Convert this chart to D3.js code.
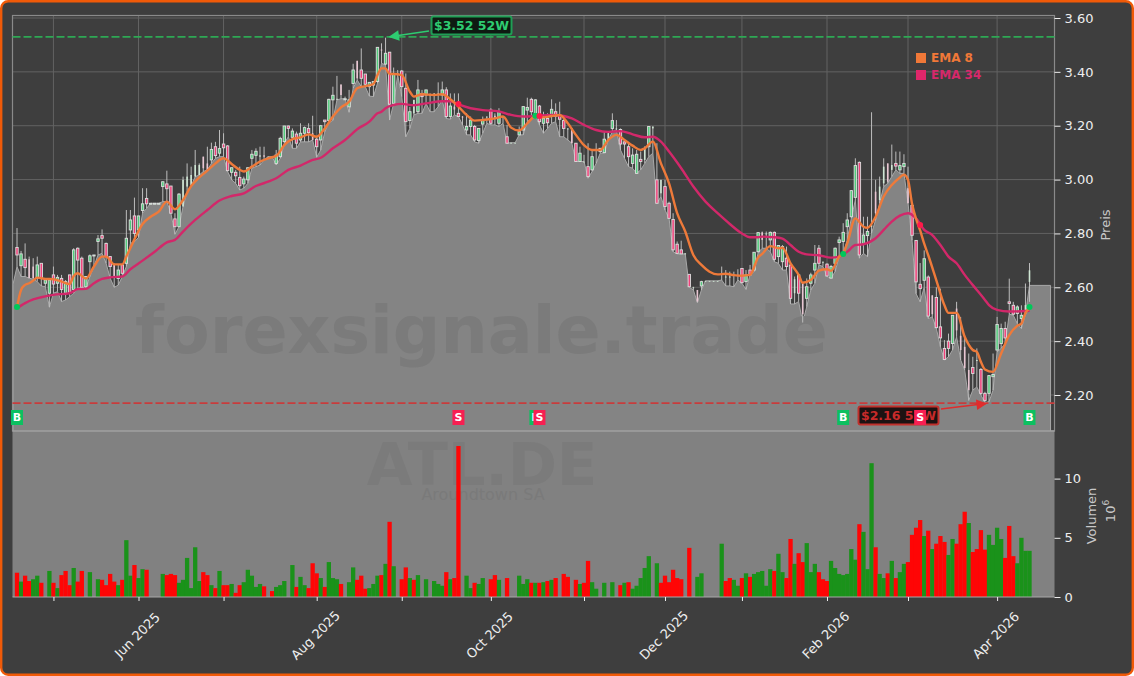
<!DOCTYPE html>
<html><head><meta charset="utf-8">
<script src="https://cdn.jsdelivr.net/npm/d3@7/dist/d3.min.js"></script>
<style>html,body{margin:0;padding:0;background:#fff}svg{display:block}text{font-family:"DejaVu Sans",sans-serif}</style>
</head><body><div id="c"></div>
<script>
const opens=[2.748,2.68,2.704,2.704,2.677,2.634,2.689,2.615,2.578,2.646,
2.615,2.633,2.578,2.646,2.592,2.745,2.708,2.602,2.695,2.72,
2.77,2.792,2.763,2.714,2.683,2.633,2.683,2.689,2.813,2.865,
2.813,2.885,2.93,2.912,2.912,2.912,2.974,2.984,2.976,2.854,
2.825,2.9,2.974,2.98,3.011,3.017,3.085,3.06,3.073,3.122,
3.098,3.132,3.125,3.027,3.027,3.008,2.984,2.999,3.079,3.09,
3.085,3.09,3.085,3.085,3.06,3.085,3.141,3.199,3.157,3.169,
3.147,3.172,3.19,3.172,3.15,3.147,3.221,3.219,3.296,3.3,
3.353,3.3,3.27,3.357,3.441,3.407,3.392,3.345,3.351,3.364,
3.483,3.429,3.473,3.283,3.394,3.403,3.339,3.219,3.246,3.252,
3.32,3.314,3.314,3.316,3.318,3.314,3.333,3.234,3.271,3.246,
3.234,3.184,3.197,3.197,3.145,3.206,3.234,3.258,3.237,3.209,
3.234,3.159,3.137,3.137,3.166,3.184,3.258,3.298,3.246,3.273,
3.209,3.227,3.234,3.252,3.24,3.219,3.19,3.19,3.135,3.067,
3.067,3.048,3.036,3.11,3.104,3.1,3.147,3.19,3.19,3.186,
3.14,3.122,3.06,3.023,3.075,3.073,3.122,3.19,2.999,2.949,
2.974,2.912,2.852,2.76,2.739,2.726,2.648,2.6,2.59,2.605,
2.624,2.624,2.624,2.624,2.652,2.64,2.64,2.646,2.646,2.67,
2.621,2.664,2.664,2.732,2.804,2.8,2.776,2.804,2.714,2.695,
2.708,2.683,2.578,2.646,2.615,2.559,2.615,2.664,2.745,2.695,
2.686,2.634,2.689,2.766,2.77,2.825,2.862,2.934,3.064,2.763,
2.792,2.825,2.955,2.924,2.986,3.06,3.036,3.06,3.036,3.048,
2.968,2.904,2.774,2.611,2.626,2.638,2.57,2.562,2.453,2.373,
2.4,2.391,2.521,2.42,2.379,2.293,2.302,2.33,2.295,2.206,
2.206,2.268,2.367,2.391,2.447,2.546,2.533,2.503,2.484,2.5,2.62];
const highs=[2.82,2.735,2.763,2.714,2.708,2.714,2.689,2.633,2.633,2.677,
2.646,2.646,2.627,2.646,2.745,2.748,2.714,2.64,2.722,2.72,
2.794,2.815,2.766,2.714,2.689,2.683,2.683,2.887,2.887,2.933,
2.865,2.968,2.968,2.912,2.912,2.912,2.992,3.033,2.976,2.875,
2.95,3.011,3.06,3.048,3.11,3.06,3.085,3.122,3.137,3.14,
3.184,3.172,3.128,3.044,3.036,3.048,3.011,3.044,3.11,3.116,
3.122,3.122,3.085,3.085,3.11,3.159,3.199,3.2,3.19,3.178,
3.209,3.197,3.209,3.237,3.16,3.203,3.221,3.3,3.345,3.385,
3.353,3.308,3.333,3.43,3.441,3.487,3.392,3.361,3.364,3.491,
3.506,3.527,3.473,3.416,3.407,3.407,3.394,3.27,3.296,3.37,
3.333,3.333,3.32,3.32,3.361,3.364,3.343,3.32,3.32,3.32,
3.236,3.246,3.234,3.203,3.19,3.234,3.234,3.265,3.246,3.265,
3.234,3.203,3.137,3.137,3.197,3.273,3.304,3.304,3.298,3.277,
3.252,3.246,3.298,3.283,3.289,3.227,3.19,3.19,3.135,3.122,
3.092,3.135,3.11,3.135,3.116,3.178,3.178,3.246,3.221,3.19,
3.147,3.14,3.116,3.11,3.104,3.122,3.197,3.197,3.135,2.999,
2.999,2.918,2.875,2.77,2.773,2.726,2.648,2.602,2.59,2.624,
2.624,2.624,2.624,2.624,2.677,2.664,2.658,2.658,2.667,2.67,
2.664,2.683,2.73,2.804,2.807,2.807,2.807,2.807,2.757,2.757,
2.751,2.683,2.64,2.646,2.615,2.633,2.654,2.757,2.757,2.695,
2.689,2.683,2.748,2.788,2.838,2.875,2.96,3.079,3.067,2.862,
2.862,3.25,2.999,3.011,3.079,3.06,3.13,3.104,3.104,3.094,
3.048,2.904,2.774,2.69,2.737,2.644,2.57,2.6,2.595,2.404,
2.428,2.496,2.546,2.49,2.42,2.354,2.342,2.373,2.3,2.212,
2.274,2.354,2.49,2.465,2.472,2.632,2.546,2.533,2.533,2.614,2.69];
const lows=[2.677,2.64,2.64,2.634,2.63,2.621,2.605,2.602,2.526,2.578,
2.584,2.547,2.553,2.565,2.578,2.596,2.6,2.596,2.64,2.677,
2.72,2.726,2.689,2.634,2.6,2.608,2.64,2.677,2.763,2.769,
2.785,2.875,2.893,2.912,2.912,2.912,2.918,2.918,2.875,2.797,
2.825,2.9,2.955,2.975,3.011,3.017,3.03,3.036,3.06,3.079,
3.085,3.085,3.03,2.999,2.986,2.961,2.968,2.986,3.042,3.048,
3.054,3.073,3.085,3.085,3.054,3.079,3.135,3.159,3.116,3.116,
3.14,3.14,3.14,3.147,3.083,3.11,3.178,3.21,3.22,3.296,
3.3,3.3,3.25,3.339,3.37,3.345,3.345,3.31,3.308,3.357,
3.432,3.425,3.221,3.283,3.388,3.308,3.159,3.19,3.24,3.246,
3.246,3.283,3.252,3.252,3.271,3.296,3.227,3.224,3.24,3.234,
3.203,3.166,3.166,3.14,3.135,3.172,3.209,3.203,3.203,3.197,
3.209,3.135,3.137,3.137,3.166,3.166,3.215,3.227,3.24,3.203,
3.172,3.19,3.209,3.215,3.159,3.159,3.147,3.135,3.067,3.067,
3.067,3.005,3.03,3.06,3.098,3.098,3.147,3.178,3.184,3.11,
3.079,3.048,3.042,3.023,3.036,3.06,3.085,3.098,2.912,2.937,
2.887,2.856,2.732,2.724,2.724,2.724,2.6,2.59,2.543,2.59,
2.624,2.624,2.624,2.624,2.627,2.605,2.605,2.602,2.627,2.615,
2.592,2.646,2.658,2.729,2.745,2.745,2.732,2.695,2.689,2.664,
2.664,2.538,2.538,2.547,2.469,2.528,2.59,2.615,2.683,2.677,
2.64,2.634,2.658,2.714,2.726,2.776,2.856,2.924,2.708,2.726,
2.714,2.8,2.85,2.912,2.974,2.986,3.011,3.036,3.023,3.023,
2.912,2.774,2.576,2.546,2.6,2.484,2.49,2.447,2.379,2.33,
2.342,2.367,2.416,2.33,2.293,2.18,2.218,2.23,2.2,2.172,
2.175,2.218,2.36,2.373,2.391,2.5,2.496,2.465,2.447,2.5,2.546];
const closes=[2.72,2.724,2.673,2.634,2.634,2.683,2.634,2.627,2.627,2.612,
2.637,2.592,2.621,2.578,2.739,2.701,2.6,2.64,2.717,2.72,
2.78,2.782,2.714,2.677,2.64,2.664,2.652,2.782,2.85,2.8,
2.865,2.91,2.91,2.912,2.912,2.912,2.992,2.966,2.875,2.825,
2.946,2.999,3.011,3.017,3.054,3.054,3.042,3.036,3.112,3.089,
3.115,3.118,3.033,3.044,3.014,2.977,3.002,3.044,3.094,3.105,
3.09,3.085,3.085,3.085,3.091,3.153,3.199,3.19,3.18,3.135,
3.172,3.193,3.174,3.147,3.122,3.2,3.215,3.298,3.313,3.3,
3.314,3.3,3.296,3.407,3.376,3.376,3.354,3.361,3.364,3.491,
3.479,3.469,3.28,3.392,3.394,3.345,3.215,3.252,3.296,3.333,
3.308,3.333,3.314,3.32,3.32,3.333,3.234,3.273,3.26,3.234,
3.232,3.197,3.221,3.147,3.19,3.219,3.234,3.209,3.23,3.252,
3.234,3.135,3.137,3.137,3.178,3.271,3.268,3.252,3.296,3.215,
3.227,3.211,3.261,3.234,3.224,3.19,3.19,3.135,3.067,3.098,
3.067,3.011,3.085,3.11,3.116,3.15,3.172,3.219,3.19,3.132,
3.132,3.085,3.091,3.094,3.067,3.122,3.197,3.197,2.912,2.999,
2.9,2.856,2.739,2.726,2.724,2.726,2.602,2.6,2.547,2.621,
2.624,2.624,2.624,2.624,2.652,2.64,2.64,2.646,2.646,2.617,
2.646,2.646,2.73,2.803,2.776,2.8,2.804,2.704,2.755,2.751,
2.677,2.559,2.63,2.578,2.5,2.602,2.646,2.689,2.689,2.695,
2.642,2.677,2.745,2.776,2.804,2.85,2.959,3.052,2.72,2.794,
2.807,2.83,2.875,2.974,3.048,2.992,3.054,3.05,3.052,3.06,
2.912,2.793,2.62,2.595,2.706,2.493,2.5,2.45,2.412,2.332,
2.373,2.496,2.44,2.367,2.3,2.218,2.28,2.33,2.206,2.18,
2.272,2.276,2.462,2.447,2.412,2.54,2.5,2.527,2.496,2.534,2.663];
// candles that show only as a thin pale stroke in the picture
const thinCandles=[3,4,24,41,42,43,44,45,46,47,60,61,62,63,73,79,80,84,90,94,98,102,103,104,108,110,116,118,120,122,123,136,137,140,143,146,148,155,157,159,165,167,168,170,171,172,173,174,175,176,177,178,184,185,192,194,199,211,212,213,214,215,216,220,226,232,233,234,235,237,249,250];
// millions of shares; negative = down day (red), 0 = no bar
const volumes=[-2.05,1.3,-1.8,-1.35,1.5,1.8,-1.2,0,2.2,-1.2,
.75,-1.85,-2.2,-1.0,2.45,-1.3,-2.2,0,2.1,0,
1.5,-1.45,-1.0,-1.95,-1.3,1.0,-1.45,4.8,1.8,-2.7,
1.6,2.35,-2.3,0,0,0,1.95,-1.85,-1.95,-1.85,
1.2,1.45,3.3,.75,4.2,1.35,-2.1,-1.85,1.0,-.75,
2.2,-1.0,-1.0,1.1,-.35,-1.0,1.25,2.3,1.8,.85,
1.1,-.9,0,-.5,.85,1.0,1.35,0,2.7,-.85,
1.7,1.0,-.75,-2.85,-2.0,1.6,-.85,2.95,1.6,1.5,
-1.1,0,1.25,2.5,-1.45,-1.8,-.7,.75,1.1,1.8,
-1.85,2.8,-6.35,2.6,0,-1.5,-2.5,1.6,-1.45,1.85,
0,1.5,0,1.35,1.1,.95,-2.1,1.5,-1.6,-12.75,
0,1.8,.75,-1.2,1.1,1.6,0,-1.5,-1.85,1.45,
0,-1.6,0,0,1.8,1.1,1.5,-1.2,1.2,-1.2,
1.25,-1.35,1.45,-1.6,0,-1.95,-1.7,0,-1.45,1.1,
-1.2,-3.05,1.25,.7,0,1.2,0,1.25,0,-1.0,
1.2,-1.25,.7,.95,1.6,2.45,3.45,0,2.85,-1.2,
-1.8,-1.25,-2.3,-1.6,-1.5,0,-4.15,0,1.7,2.0,
0,0,0,0,4.5,-1.35,-1.6,1.45,.95,-1.6,
2.0,-1.7,1.95,2.1,2.2,.95,2.35,-2.2,3.65,2.1,
-1.6,-4.9,2.8,-3.7,-2.95,4.55,2.1,2.8,-2.1,-1.5,
-1.35,3.05,2.45,1.95,1.85,1.95,4.05,3.15,-6.15,5.5,
2.35,11.3,-4.2,1.95,1.6,-2.0,3.05,-1.6,2.1,2.8,
-2.95,-5.25,-5.85,-6.5,5.15,-5.6,4.05,-4.5,-5.15,-4.65,
3.55,4.9,-4.5,-6.15,-7.2,6.25,-3.8,-4.05,-5.65,-4.0,
5.25,4.4,5.85,4.9,-3.3,-6.0,-3.45,2.85,5.0,3.9,3.9];
const ema8Index=[0,1,2,3,4,5,7,9,11,13,14,15,17,19,21,22,24,26,27,29,31,33,35,37,39,41,43,45,47,49,51,53,55,56,58,60,62,64,66,68,70,72,74,76,78,80,82,84,86,88,89,
90,91,92,93,95,97,98,100,103,105,107,109,111,113,115,118,120,122,124,126,128,130,132,134,136,138,140,142,144,146,148,150,152,154,155,157,159,161,163,165,167,169,171,173,175,177,179,181,183,
184,186,188,189,191,193,194,196,198,200,201,203,204,205,207,209,210,212,214,216,218,219,220,221,222,223,224,225,227,229,230,232,234,236,237,238,239,241,243,245,247,248,249,250];
const ema8Values=[2.526,2.59,2.609,2.615,2.625,2.636,2.631,2.63,2.621,2.612,2.642,2.652,2.632,2.677,2.714,2.714,2.685,2.685,2.714,2.778,2.835,2.862,2.881,2.918,2.89,2.924,2.976,3.008,3.033,3.06,3.079,3.058,3.036,3.03,3.048,3.067,3.079,3.088,3.128,3.15,3.157,3.168,3.159,3.19,3.234,3.268,3.289,3.339,3.347,3.355,3.388,
3.413,3.413,3.392,3.392,3.388,3.326,3.308,3.317,3.314,3.317,3.298,3.271,3.24,3.219,3.221,3.227,3.234,3.193,3.182,3.209,3.234,3.231,3.236,3.24,3.209,3.166,3.128,3.11,3.11,3.147,3.166,3.147,3.126,3.11,3.116,3.141,3.06,2.986,2.875,2.807,2.72,2.683,2.658,2.648,2.65,2.645,2.643,2.646,2.711,
2.724,2.753,2.745,2.747,2.689,2.646,2.617,2.627,2.662,2.667,2.661,2.714,2.726,2.763,2.856,2.825,2.821,2.862,2.937,2.98,3.008,3.018,2.999,2.91,2.854,2.811,2.762,2.719,2.626,2.533,2.505,2.505,2.416,2.367,2.36,2.323,2.295,2.286,2.354,2.422,2.457,2.465,2.505,2.521];
const ema34Index=[0,2,4,6,9,13,15,17,19,21,23,26,28,31,34,37,39,41,44,47,50,53,56,59,62,64,67,70,73,75,78,81,84,87,89,
90,91,93,95,98,101,105,107,109,112,115,119,122,125,128,132,135,137,140,143,146,149,152,155,157,159,161,164,167,170,173,176,179,181,183,
184,187,189,191,193,195,198,201,203,205,207,209,212,214,216,218,220,222,224,226,228,230,232,234,237,239,240,242,245,248,250];
const ema34Values=[2.522,2.541,2.555,2.563,2.572,2.578,2.593,2.594,2.615,2.631,2.637,2.64,2.667,2.699,2.732,2.767,2.776,2.807,2.85,2.887,2.922,2.939,2.949,2.976,2.992,3.005,3.036,3.052,3.073,3.081,3.116,3.147,3.187,3.215,3.246,
3.252,3.265,3.277,3.281,3.276,3.283,3.291,3.291,3.279,3.265,3.258,3.253,3.24,3.234,3.236,3.24,3.236,3.227,3.203,3.184,3.177,3.18,3.168,3.157,3.159,3.141,3.104,3.042,2.974,2.918,2.875,2.835,2.8,2.786,2.786,
2.788,2.786,2.781,2.757,2.732,2.722,2.719,2.71,2.714,2.732,2.757,2.76,2.782,2.813,2.844,2.866,2.875,2.856,2.813,2.794,2.757,2.714,2.689,2.646,2.59,2.553,2.534,2.516,2.51,2.511,2.513];
const priceTicks=[3.6,3.4,3.2,3.0,2.8,2.6,2.4,2.2];
const volumeTicks=[0,5,10];
const monthIndex=[9,30,51,74,95,117,140,160,179,200,220,242];
const monthLabels=["","Jun 2025","","Aug 2025","","Oct 2025","","Dec 2025","","Feb 2026","","Apr 2026"];
const signalIndex=[0,109,128,129,204,223,250];
const signalPrice=[2.527,3.281,3.237,3.236,2.724,2.831,2.527];
const signalSide=["B","S","B","S","B","S","B"];
const high52=3.53, low52=2.17;
const high52Label="$3.52 52W", low52Label="$2.16 52W";
const high52Index=92, low52Index=239;
const areaHead=2.61, areaTail=2.607;

const W=1134,H=676;
const PL=12.5,PR=1054.5,PT=15.5,PB=431,VB=597;
const x=d3.scaleLinear().domain([0,250]).range([17,1029.5]);
const y=d3.scaleLinear().domain([2.2,3.6]).range([395,18]);
const v=d3.scaleLinear().domain([0,10]).range([597,478.6]);
const svg=d3.select("#c").append("svg").attr("width",W).attr("height",H);
svg.append("rect").attr("x",1.2).attr("y",1.2).attr("width",W-2.4).attr("height",H-2.4).attr("rx",7)
  .attr("fill","#3e3e3e").attr("stroke","#f05a08").attr("stroke-width",2.4);

// grid
const grid=svg.append("g").attr("stroke","#626262").attr("stroke-width",1);
monthIndex.forEach(i=>grid.append("line").attr("x1",x(i)).attr("x2",x(i)).attr("y1",PT).attr("y2",PB));
priceTicks.forEach(p=>grid.append("line").attr("x1",PL).attr("x2",PR).attr("y1",y(p)).attr("y2",y(p)));

// panel frame
svg.append("rect").attr("x",PL).attr("y",PT).attr("width",PR-PL).attr("height",PB-PT)
  .attr("fill","none").attr("stroke","#8a8a8a").attr("stroke-width",1.2);

// volume panel
svg.append("rect").attr("x",PL).attr("y",PB).attr("width",PR-PL).attr("height",VB-PB).attr("fill","#818181");

// price area (fill under the low line)
const clip=svg.append("clipPath").attr("id","pc").append("rect").attr("x",PL).attr("y",PT).attr("width",PR-PL).attr("height",PB-PT);
const areaData=[[-1,areaHead]].concat(lows.map((l,i)=>[i,l]));
areaData[areaData.length-1]=[250,areaTail];
areaData.push([255.2,areaTail]);
const pg=svg.append("g").attr("clip-path","url(#pc)");
pg.append("path").datum(areaData).attr("fill","#848484").attr("stroke","#a8a8a8").attr("stroke-width",1)
  .attr("d",d3.area().x(d=>x(d[0])).y0(PB+2).y1(d=>y(d[1])));
svg.append("line").attr("x1",PL).attr("x2",PR).attr("y1",PB).attr("y2",PB).attr("stroke","#a0a0a0").attr("stroke-width",1.6);

// watermarks
svg.append("text").attr("x",481.5).attr("y",353).attr("text-anchor","middle").attr("font-size",66.5).attr("font-weight","bold").attr("fill","#7b7b7b").text("forexsignale.trade");
svg.append("text").attr("x",482).attr("y",485).attr("text-anchor","middle").attr("font-size",59).attr("font-weight","bold").attr("fill","#7b7b7b").text("ATL.DE");
svg.append("text").attr("x",483).attr("y",500).attr("text-anchor","middle").attr("font-size",16).attr("fill","#7a7a7a").text("Aroundtown SA");

// 52 week lines
const dash="8,3";
svg.append("line").attr("x1",PL).attr("x2",PR).attr("y1",y(high52)).attr("y2",y(high52)).attr("stroke","#2ea854").attr("stroke-width",1.6).attr("stroke-dasharray",dash);
svg.append("line").attr("x1",PL).attr("x2",PR).attr("y1",y(low52)).attr("y2",y(low52)).attr("stroke","#c83c3c").attr("stroke-width",1.6).attr("stroke-dasharray",dash);

// volume bars
svg.append("g").selectAll("rect").data(volumes.map((q,i)=>({q,i})).filter(d=>d.q!==0)).join("rect")
  .attr("x",d=>x(d.i)-2.15).attr("width",4.3)
  .attr("y",d=>v(Math.abs(d.q))).attr("height",d=>v(0)-v(Math.abs(d.q)))
  .attr("fill",d=>d.q<0?"#ff0505":"#1a921a");
svg.append("line").attr("x1",PL).attr("x2",PR).attr("y1",VB).attr("y2",VB).attr("stroke","#a8a8a8").attr("stroke-width",1);

// candles
const candles=svg.append("g");
const thinSet=new Set(thinCandles);
closes.forEach((c,i)=>{
  const o=opens[i],up=c>=o;
  candles.append("line").attr("x1",x(i)).attr("x2",x(i)).attr("y1",y(highs[i])).attr("y2",y(lows[i])).attr("stroke","#bdbdbd").attr("stroke-width",1);
  const top=Math.max(o,c),bot=Math.min(o,c);
  if(thinSet.has(i)){
    candles.append("rect").attr("x",x(i)-.8).attr("width",1.6).attr("y",y(top)).attr("height",Math.max(y(bot)-y(top),1))
      .attr("fill",up?"#cfe6d4":"#e8c6d2");
  } else {
    candles.append("rect").attr("x",x(i)-1.2).attr("width",2.4).attr("y",y(top)).attr("height",Math.max(y(bot)-y(top),1))
      .attr("fill",up?"#52cc7c":"#f0407a").attr("stroke","#dedede").attr("stroke-width",.9);
  }
});

// EMA lines
const line=d3.line().x(d=>x(d[0])).y(d=>y(d[1])).curve(d3.curveMonotoneX);
svg.append("path").datum(ema34Index.map((k,j)=>[k,ema34Values[j]])).attr("fill","none").attr("stroke","#d2286a").attr("stroke-width",2.4).attr("d",line);
svg.append("path").datum(ema8Index.map((k,j)=>[k,ema8Values[j]])).attr("fill","none").attr("stroke","#ee7a3a").attr("stroke-width",2.4).attr("d",line);

// signal dots
svg.append("g").selectAll("circle").data(signalIndex.map((k,j)=>j)).join("circle")
  .attr("cx",j=>x(signalIndex[j])).attr("cy",j=>y(signalPrice[j])).attr("r",3)
  .attr("fill",j=>signalSide[j]=="B"?"#00c85a":"#ff1a4a");

// 52-week labels
svg.append("defs").html('<marker id="ag" viewBox="0 0 10 10" refX="9" refY="5" markerWidth="9" markerHeight="7" orient="auto"><path d="M0,0L10,5L0,10z" fill="#2ecc71"/></marker><marker id="ar" viewBox="0 0 10 10" refX="9" refY="5" markerWidth="9" markerHeight="7" orient="auto"><path d="M0,0L10,5L0,10z" fill="#e02c2c"/></marker>');
function label(txt,bx,by,bg,bd,fg){
  svg.append("rect").attr("x",bx).attr("y",by).attr("width",80).attr("height",18).attr("rx",2).attr("fill",bg).attr("stroke",bd).attr("stroke-width",2);
  svg.append("text").attr("x",bx+40).attr("y",by+13.5).attr("text-anchor","middle").attr("font-size",12.5).attr("font-weight","bold").attr("fill",fg).text(txt);
}
svg.append("line").attr("x1",429).attr("y1",31).attr("x2",x(high52Index)).attr("y2",y(high52)).attr("stroke","#2ecc71").attr("stroke-width",1.5).attr("marker-end","url(#ag)");
label(high52Label,431.5,16.5,"#0e1a12","#1f9e55","#2ecc71");
svg.append("line").attr("x1",941).attr("y1",409).attr("x2",x(low52Index)+1).attr("y2",y(low52)+.5).attr("stroke","#e02c2c").attr("stroke-width",1.5).attr("marker-end","url(#ar)");
label(low52Label,858.5,406.5,"#1c1212","#c0302c","#c82a2a");

// B / S markers
const mk=svg.append("g");
signalIndex.forEach((k,j)=>{
  const g=signalSide[j]=="B";
  mk.append("rect").attr("x",x(k)-6).attr("y",410).attr("width",12).attr("height",15).attr("fill",g?"#0cc060":"#f71f52");
  mk.append("text").attr("x",x(k)).attr("y",421.3).attr("text-anchor","middle").attr("font-size",11).attr("font-weight","bold").attr("fill","#fff").text(signalSide[j]);
});

// legend
svg.append("rect").attr("x",916).attr("y",53).attr("width",10).attr("height",10).attr("fill","#f07838");
svg.append("text").attr("x",931).attr("y",62).attr("font-size",12).attr("font-weight","bold").attr("fill","#f07838").text("EMA 8");
svg.append("rect").attr("x",916).attr("y",70).attr("width",10).attr("height",10).attr("fill","#e0266a");
svg.append("text").attr("x",931).attr("y",78.5).attr("font-size",12).attr("font-weight","bold").attr("fill","#d6286a").text("EMA 34");

// axes
function styleAxis(g){
  g.select(".domain").remove();
  g.selectAll("line").attr("stroke","#eee").attr("stroke-width",1);
  g.selectAll("text").attr("fill","#eee").attr("font-size",13).attr("font-family","DejaVu Sans");
}
svg.append("g").attr("transform",`translate(${PR},0)`)
  .call(d3.axisRight(y).tickValues(priceTicks).tickFormat(d3.format(".2f")).tickSize(6).tickPadding(4)).call(styleAxis);
svg.append("g").attr("transform",`translate(${PR},0)`)
  .call(d3.axisRight(v).tickValues(volumeTicks).tickFormat(d3.format("d")).tickSize(6).tickPadding(4)).call(styleAxis);
const xa=svg.append("g").attr("transform",`translate(0,${VB})`)
  .call(d3.axisBottom(x).tickValues(monthIndex).tickFormat((d,i)=>monthLabels[i]).tickSize(4).tickPadding(0)).call(styleAxis);
xa.selectAll("text").attr("text-anchor","middle").attr("dy",0).attr("y",0)
  .attr("transform","translate(-1,39) rotate(-45)").attr("dominant-baseline","middle");

// axis titles
function vtext(txt,tx,ty,fs){
  return svg.append("text").attr("transform",`translate(${tx},${ty}) rotate(-90)`).attr("text-anchor","middle").attr("dominant-baseline","middle").attr("font-size",fs).attr("fill","#c8c8c8").text(txt);
}
vtext("Preis",1106.5,225,13);
vtext("Volumen",1092,516,13);
const o=svg.append("text").attr("transform","translate(1111,511) rotate(-90)").attr("text-anchor","middle").attr("dominant-baseline","middle").attr("font-size",13).attr("fill","#c8c8c8");
o.append("tspan").text("10");
o.append("tspan").attr("font-size",9).attr("dy",-5).text("6");
</script></body></html>
